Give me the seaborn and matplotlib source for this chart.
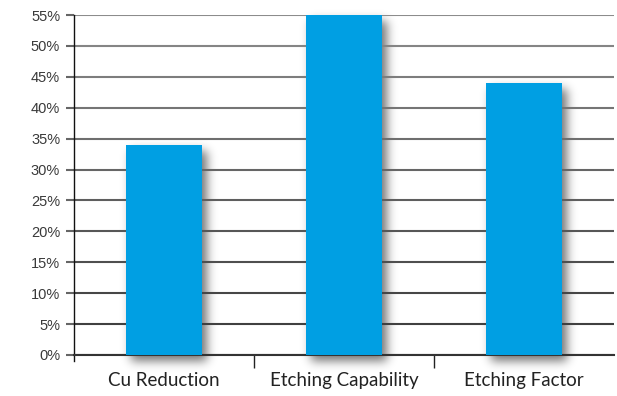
import matplotlib
matplotlib.use("Agg")
import matplotlib.pyplot as plt
import seaborn as sns
import pandas as pd
import numpy as np

categories = ["Cu Reduction", "Etching Capability", "Etching Factor"]
values = [34, 55, 44]
yticks = [0, 5, 10, 15, 20, 25, 30, 35, 40, 45, 50, 55]
ytick_labels = [f"{v}%" for v in yticks]

df = pd.DataFrame({"cat": categories, "val": values})

sns.set_style("white")
plt.rcParams["font.family"] = ["Lato", "DejaVu Sans"]

FW, FH = 617, 396
fig = plt.figure(figsize=(FW / 100, FH / 100), dpi=100)
ax = fig.add_axes([74/FW, 1-355/FH, (614-74)/FW, (355-15)/FH])
ax.patch.set_facecolor("none")

sns.barplot(data=df, x="cat", y="val", color="#009FE3", saturation=1,
            width=0.42, ax=ax, zorder=3)
for p in ax.patches:
    p.set_edgecolor("none")

ax.set_xlim(-0.5, 2.5)
ax.set_ylim(0, 55)

# soft drop shadow: blurred copy of the bars' footprint, drawn behind the axes
mask = np.zeros((FH, FW))
shift_x, shift_y = 5, -6
for p in ax.patches:
    (x0, y0), (x1, y1) = ax.transData.transform(
        [(p.get_x(), p.get_y()), (p.get_x() + p.get_width(), p.get_y() + p.get_height())])
    c0, c1 = int(round(x0 + shift_x)), int(round(x1 + shift_x))
    r0, r1 = int(round(y0 + shift_y)), int(round(y1 + shift_y))
    mask[max(r0, 0):min(r1, FH), max(c0, 0):min(c1, FW)] = 1.0
sigma = 5.0
k = np.arange(-16, 17)
kern = np.exp(-k**2 / (2 * sigma**2))
kern /= kern.sum()
blur = np.apply_along_axis(lambda r: np.convolve(r, kern, mode="same"), 1, mask)
blur = np.apply_along_axis(lambda c: np.convolve(c, kern, mode="same"), 0, blur)
img = np.zeros((FH, FW, 4))
img[..., 3] = 0.55 * blur
fig.figimage(img, xo=0, yo=0, origin="lower", zorder=-1)

ax.set_yticks(yticks)
ax.set_yticklabels(ytick_labels, fontfamily=["Liberation Sans"], fontsize=10.5, color="#3a3a3a")
ax.set_xticks(range(len(categories)))
ax.set_xticklabels(categories, fontsize=13.5, color="#222222")
ax.set_xlabel("")
ax.set_ylabel("")

ax.set_axisbelow(True)
ax.yaxis.grid(True, linewidth=1.5)
grays = np.linspace(0.22, 0.55, len(yticks))
for gl, g in zip(ax.get_ygridlines(), grays):
    gl.set_color((g, g, g))
ax.tick_params(axis="y", length=6, width=1.5, color="#666666", pad=4, left=True)
ax.tick_params(axis="x", length=0, pad=12)
ax.set_xticks([0.5, 1.5], minor=True)
ax.tick_params(axis="x", which="minor", length=9, width=1, color="#222222", bottom=True)

for s in ["top", "right"]:
    ax.spines[s].set_visible(False)
ax.spines["bottom"].set_color("#333333")
ax.spines["bottom"].set_linewidth(1.5)
ax.spines["left"].set_color("#111111")
ax.spines["left"].set_linewidth(1)
ax.spines["left"].set_bounds(-1.0, 55)

fig.savefig("out.png", dpi=100)
